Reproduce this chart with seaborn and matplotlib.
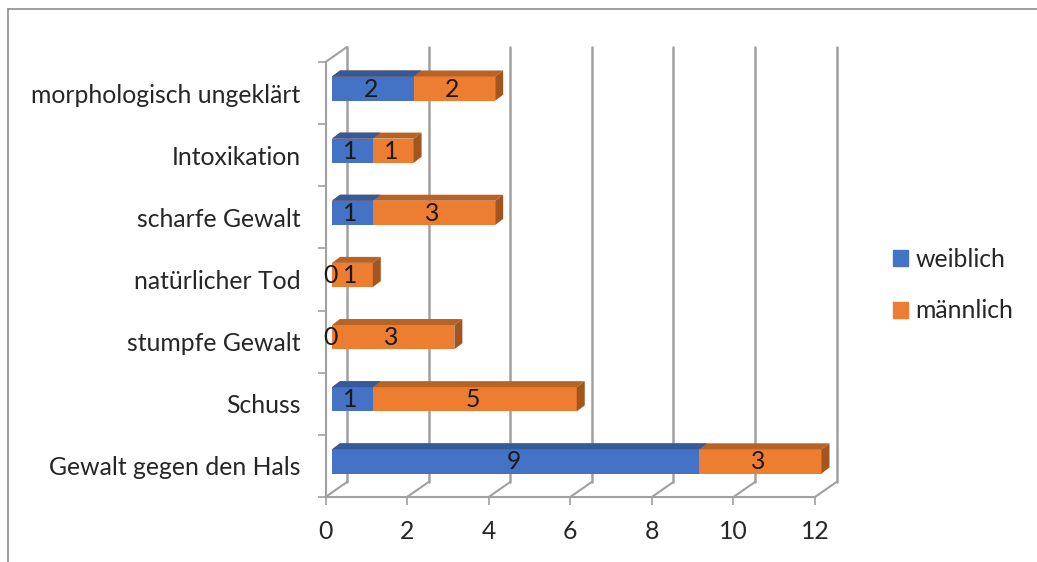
import numpy as np
import pandas as pd
import seaborn as sns
import matplotlib.pyplot as plt
from matplotlib.lines import Line2D
from matplotlib.patches import Patch, Polygon
from matplotlib.transforms import Affine2D

# values
kategorien = ["morphologisch ungeklärt", "Intoxikation", "scharfe Gewalt", "natürlicher Tod",
              "stumpfe Gewalt", "Schuss", "Gewalt gegen den Hals"]
weiblich = [2, 1, 1, 0, 0, 1, 9]
maennlich = [2, 1, 3, 1, 3, 5, 3]
x_ticks = [0, 2, 4, 6, 8, 10, 12]

BLAU, BLAU_OBEN = "#4472C4", "#355A9C"
ORANGE, ORANGE_OBEN, ORANGE_SEITE = "#ED7D31", "#B96226", "#A3551F"
GRAU = "#A0A0A0"
TEXT = "#262626"
W, H = 1037, 562
FS = 17.8

sns.set_style("white")
plt.rcParams["font.family"] = ["Lato", "DejaVu Sans"]

df = pd.DataFrame({"kategorie": kategorien, "weiblich": weiblich, "maennlich": maennlich})
df["gesamt"] = df["weiblich"] + df["maennlich"]

fig = plt.figure(figsize=(W / 100, H / 100), dpi=100)
# front plane of the fake 3D box, in pixels
links, rechts, oben, unten = 325.5, 815, 62, 497
ax = fig.add_axes([links / W, 1 - unten / H, (rechts - links) / W, (unten - oben) / H])

sns.barplot(data=df, y="kategorie", x="gesamt", color=ORANGE, saturation=1, width=0.39,
            linewidth=0, ax=ax, zorder=2)
sns.barplot(data=df, y="kategorie", x="weiblich", color=BLAU, saturation=1, width=0.39,
            linewidth=0, ax=ax, zorder=2)
ax.set_xlabel("")
ax.set_ylabel("")

px_x = (rechts - links) / 12
px_y = (unten - oben) / 7
wand = ax.transData + Affine2D().translate(21.5, 15)
balken = ax.transData + Affine2D().translate(6.5, 4.5)
beschriftung = ax.transData + Affine2D().translate(4.5, 4)

# back wall and floor lines
for t in x_ticks:
    ax.plot([t, t], [6.5, -0.5], color=GRAU, lw=1.8, transform=wand, clip_on=False, zorder=1)
    ax.plot([t, t + 21.5 / px_x], [6.5, 6.5 - 15 / px_y], color=GRAU, lw=1.5, clip_on=False, zorder=1)
ax.plot([0, 21.5 / px_x], [-0.5, -0.5 - 15 / px_y], color=GRAU, lw=1.5, clip_on=False, zorder=1)

# shift bars and add top/side faces
tiefe_x, tiefe_y = 8 / px_x, 6 / px_y
n = len(kategorien)
for i, bar in enumerate(list(ax.patches)):
    bar.set_transform(balken)
    bar.set_clip_on(False)
    x0, x1 = bar.get_x(), bar.get_x() + bar.get_width()
    top = bar.get_y()
    bottom = top + bar.get_height()
    if x1 == x0:
        continue
    ist_orange = i < n
    ax.add_patch(Polygon([(x0, top), (x1, top), (x1 + tiefe_x, top - tiefe_y), (x0 + tiefe_x, top - tiefe_y)],
                         facecolor=ORANGE_OBEN if ist_orange else BLAU_OBEN, lw=0,
                         transform=balken, clip_on=False, zorder=2))
    if ist_orange:
        ax.add_patch(Polygon([(x1, top), (x1 + tiefe_x, top - tiefe_y), (x1 + tiefe_x, bottom - tiefe_y), (x1, bottom)],
                             facecolor=ORANGE_SEITE, lw=0, transform=balken, clip_on=False, zorder=2))

# data labels
for i in range(n):
    w, m = weiblich[i], maennlich[i]
    ax.text(w / 2, i, str(w), transform=beschriftung, ha="center", va="center", fontsize=FS,
            color="#1a1a1a", zorder=3, clip_on=False)
    ax.text(w + m / 2, i, str(m), transform=beschriftung, ha="center", va="center", fontsize=FS,
            color="#1a1a1a", zorder=3, clip_on=False)

# axes styling
ax.set_xlim(0, 12)
ax.set_ylim(6.5, -0.5)
ax.set_xticks(x_ticks)
sns.despine(ax=ax, top=True, right=True)
for s in ["left", "bottom"]:
    ax.spines[s].set_color(GRAU)
    ax.spines[s].set_linewidth(1.5)
ax.set_yticks(np.arange(-0.5, n), minor=True)
ax.tick_params(axis="y", which="major", length=0, pad=18, labelsize=FS, labelcolor=TEXT)
ax.tick_params(axis="y", which="minor", left=True, length=6, width=1.2, color=GRAU)
ax.tick_params(axis="x", bottom=True, length=6, width=1.2, color=GRAU, pad=10.5, labelsize=FS,
               labelcolor=TEXT)

leg = fig.legend(handles=[Patch(color=BLAU, label="weiblich"), Patch(color=ORANGE, label="männlich")],
                 loc="center left", bbox_to_anchor=(871 / W, 1 - 285 / H), frameon=False,
                 fontsize=FS, handlelength=0.6, handleheight=0.6, handletextpad=0.3,
                 labelspacing=1.17, labelcolor=TEXT)

# picture frame left and top
fig.add_artist(Line2D([7.5 / W, 7.5 / W], [0, 1 - 8.5 / H], color="#8C8C8C", lw=1.2))
fig.add_artist(Line2D([7.5 / W, 1], [1 - 8.5 / H, 1 - 8.5 / H], color="#8C8C8C", lw=1.2))

plt.savefig("out.png", dpi=100)
plt.close()
